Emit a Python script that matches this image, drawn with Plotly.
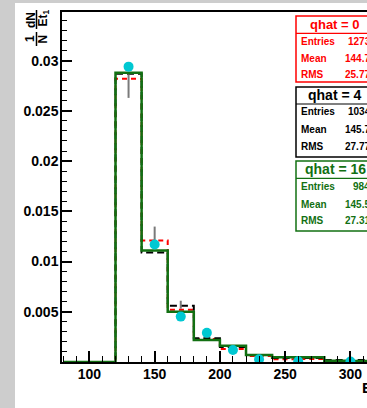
import plotly.graph_objects as go

# ---- histogram data (bin width 20, Et_1) ----
bin_edges = [80, 100, 120, 140, 160, 180, 200, 220, 240, 260, 280, 300, 320]
h_q0 = [0, 0, 0.0282, 0.0121, 0.0052, 0.0023, 0.0013, 0.0006, 0.00028, 0.0003, 0.0001, 0.0001]
h_q4 = [0, 0, 0.0287, 0.0109, 0.0056, 0.00236, 0.0015, 0.0007, 0.0004, 0.0004, 0.0002, 0.0002]
h_q16 = [0, 0, 0.0288, 0.0111, 0.0050, 0.0022, 0.00163, 0.0007, 0.00047, 0.00047, 0.00013, 0.0001]

# reference points
pt_x = [130, 150, 170, 190, 210, 230, 260, 300]
pt_y = [0.0294, 0.0117, 0.00452, 0.0029, 0.0012, 0.00027, 0.00007, 0.00005]

# error bars (grey)
err_x = [130, 150, 170]
err_y = [0.02745, 0.01248, 0.0057]
err_half = [0.00116, 0.0010, 0.0004]

# stat boxes
box_titles = ["qhat = 0", "qhat = 4", "qhat = 16"]
box_entries = ["12735", "10348", "9846"]
box_means = ["144.71", "145.72", "145.51"]
box_rms = ["25.773", "27.774", "27.312"]

x_ticks = [100, 150, 200, 250, 300]
y_ticks = [0.005, 0.01, 0.015, 0.02, 0.025, 0.03]

RED = "#ff0000"
BLACK = "#000000"
GREEN = "#127012"
CYAN = "#00c8d2"
FONT = "Liberation Sans, Arial, sans-serif"

# plot area geometry in pixels
L, R, T, B = 62, 367, 12, 362
W, H = 367, 408


def pxx(px):
    return (px - L) / (R - L)


def pxy(py):
    return (B - py) / (B - T)


def step_y(vals):
    return list(vals) + [vals[-1]]


fig = go.Figure()

fig.add_trace(go.Scatter(x=bin_edges, y=step_y(h_q0), mode="lines", line_shape="hv",
                         line=dict(color=RED, width=2, dash="5px,4px"), hoverinfo="skip"))
fig.add_trace(go.Scatter(x=bin_edges, y=step_y(h_q4), mode="lines", line_shape="hv",
                         line=dict(color=BLACK, width=2, dash="7px,4px"), hoverinfo="skip"))
fig.add_trace(go.Scatter(x=bin_edges, y=step_y(h_q16), mode="lines", line_shape="hv",
                         line=dict(color=GREEN, width=2.5), hoverinfo="skip"))
fig.add_trace(go.Scatter(x=err_x, y=err_y, mode="markers",
                         marker=dict(size=1, opacity=0),
                         error_y=dict(type="data", array=err_half, color="#7a7a7a",
                                      thickness=2, width=0),
                         hoverinfo="skip"))
fig.add_trace(go.Scatter(x=pt_x, y=pt_y, mode="markers",
                         marker=dict(size=10, color=CYAN, line=dict(width=0)),
                         hoverinfo="skip"))

shapes = []
annotations = []

# white canvas over the grey slide background
shapes.append(dict(type="rect", xref="paper", yref="paper", layer="below",
                   x0=pxx(15), x1=pxx(400), y0=pxy(3), y1=pxy(420),
                   fillcolor="white", line=dict(width=0)))

# y-axis title: 1/N dN/dEt_1 built as a rotated fraction
for txt, px, py in [("1", 30, 39), ("N", 42.5, 39), ("dN", 30.5, 19.5), ("Et<sub>1</sub>", 43, 18.5)]:
    annotations.append(dict(text=txt, xref="paper", yref="paper", x=pxx(px), y=pxy(py),
                            xanchor="center", yanchor="middle", showarrow=False, textangle=-90,
                            font=dict(family=FONT, size=12, color="black", weight="bold")))
for y0, y1 in [(32, 46), (10, 29)]:
    shapes.append(dict(type="line", xref="paper", yref="paper",
                       x0=pxx(36.5), x1=pxx(36.5), y0=pxy(y0), y1=pxy(y1),
                       line=dict(color="black", width=1.5)))

# x-axis title
annotations.append(dict(text="Et<sub>1</sub>", xref="paper", yref="paper", x=pxx(359.5), y=pxy(388),
                        xanchor="left", yanchor="middle", showarrow=False,
                        font=dict(family=FONT, size=15, color="black", weight="bold")))

# stat boxes
box_geo = [
    # top, header line, bottom, title y, row ys, title size
    (16, 33.3, 82, 24.5, (41.3, 58.3, 74.0), 13),
    (87, 104, 157, 95.3, (111.7, 129.3, 146.7), 14),
    (161, 178.3, 231, 168.5, (186.7, 204.3, 220.7), 14),
]
box_colors = [RED, BLACK, GREEN]
bx0, bx1 = 296, 374
for i, (top, hline, bot, ty, rows, tsize) in enumerate(box_geo):
    c = box_colors[i]
    shapes.append(dict(type="rect", xref="paper", yref="paper",
                       x0=pxx(bx0), x1=pxx(bx1), y0=pxy(bot), y1=pxy(top),
                       fillcolor="white", line=dict(color=c, width=1.5)))
    shapes.append(dict(type="line", xref="paper", yref="paper",
                       x0=pxx(bx0), x1=pxx(bx1), y0=pxy(hline), y1=pxy(hline),
                       line=dict(color=c, width=1.2)))
    annotations.append(dict(text=box_titles[i], xref="paper", yref="paper",
                            x=pxx((bx0 + bx1) / 2), y=pxy(ty), xanchor="center", yanchor="middle",
                            showarrow=False, font=dict(family=FONT, size=tsize, color=c, weight="bold")))
    for lab, val, ry in zip(["Entries", "Mean", "RMS"],
                            [box_entries[i], box_means[i], box_rms[i]], rows):
        annotations.append(dict(text=lab, xref="paper", yref="paper", x=pxx(299), y=pxy(ry),
                                xanchor="left", yanchor="middle", showarrow=False,
                                font=dict(family=FONT, size=10, color=c, weight="bold")))
        annotations.append(dict(text=val, xref="paper", yref="paper", x=pxx(377.5), y=pxy(ry),
                                xanchor="right", yanchor="middle", showarrow=False,
                                font=dict(family=FONT, size=10, color=c, weight="bold")))

x_minor = list(range(80, 320, 10))
y_minor = [k * 0.001 for k in range(0, 35)]

fig.update_layout(
    width=W, height=H, autosize=False,
    margin=dict(l=L, r=W - R, t=T, b=H - B, pad=0),
    paper_bgcolor="#cdcdcd",
    plot_bgcolor="white",
    showlegend=False,
    shapes=shapes,
    annotations=annotations,
    xaxis=dict(range=[79.0, 79.0 + (R - L) / 1.305], showgrid=False, zeroline=False,
               showline=True, linecolor="black", linewidth=1.5, mirror=True,
               tickmode="array", tickvals=x_ticks, ticktext=[str(v) for v in x_ticks],
               ticks="inside", ticklen=11, tickwidth=1.5, tickcolor="black",
               ticklabelstandoff=-2,
               minor=dict(tickmode="array", tickvals=x_minor, ticks="inside", ticklen=6,
                          tickwidth=1.2, tickcolor="black", showgrid=False),
               tickfont=dict(family=FONT, size=14, color="black", weight="bold")),
    yaxis=dict(range=[0, 0.03484], showgrid=False, zeroline=False,
               showline=True, linecolor="black", linewidth=1.5, mirror=False,
               tickmode="array", tickvals=y_ticks, ticktext=[f"{v:g}" for v in y_ticks],
               ticks="inside", ticklen=10, tickwidth=1.5, tickcolor="black",
               ticklabelstandoff=-1,
               minor=dict(tickmode="array", tickvals=y_minor, ticks="inside", ticklen=5,
                          tickwidth=1.2, tickcolor="black", showgrid=False),
               tickfont=dict(family=FONT, size=14, color="black", weight="bold")),
)

fig.write_html("out.html")
